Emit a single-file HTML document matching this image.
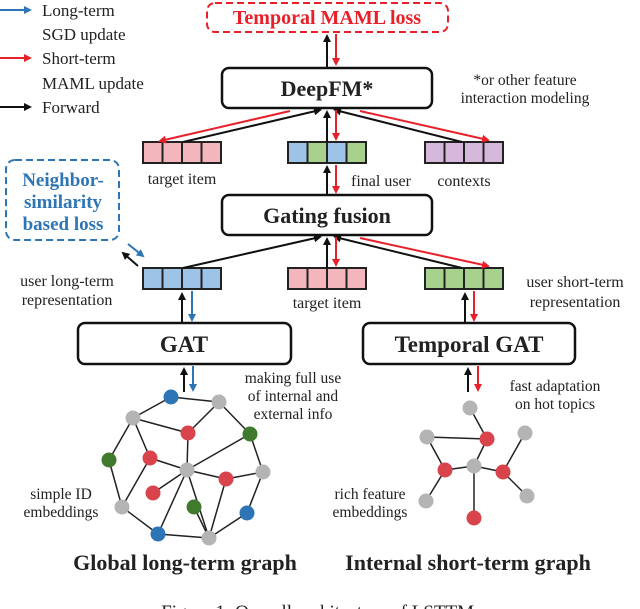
<!DOCTYPE html>
<html><head><meta charset="utf-8"><style>
html,body{margin:0;padding:0;background:#fff;width:640px;height:609px;overflow:hidden}
svg{display:block}
text{font-family:"Liberation Serif",serif;fill:#222}
</style></head><body>
<svg width="640" height="609" viewBox="0 0 640 609" xmlns="http://www.w3.org/2000/svg">
<defs>
<marker id="ak" markerWidth="8" markerHeight="8" refX="6" refY="4" orient="auto" markerUnits="userSpaceOnUse"><path d="M0,0 L8,4 L0,8 Z" fill="#111"/></marker>
<marker id="ar" markerWidth="8" markerHeight="8" refX="6" refY="4" orient="auto" markerUnits="userSpaceOnUse"><path d="M0,0 L8,4 L0,8 Z" fill="#e8202a"/></marker>
<marker id="ab" markerWidth="8" markerHeight="8" refX="6" refY="4" orient="auto" markerUnits="userSpaceOnUse"><path d="M0,0 L8,4 L0,8 Z" fill="#2e75b6"/></marker>
</defs>

<g stroke-width="2">
<line x1="0" y1="10" x2="30" y2="10" stroke="#2e75b6" marker-end="url(#ab)"/>
<line x1="0" y1="58" x2="30" y2="58" stroke="#e8202a" marker-end="url(#ar)"/>
<line x1="0" y1="107" x2="30" y2="107" stroke="#111" marker-end="url(#ak)"/>
</g>
<g font-size="17">
<text x="42" y="16">Long-term</text>
<text x="42" y="40">SGD update</text>
<text x="42" y="64">Short-term</text>
<text x="42" y="89">MAML update</text>
<text x="42" y="113">Forward</text>
</g>

<rect x="207" y="3" width="241" height="29" rx="8" fill="#fff" stroke="#e8202a" stroke-width="2" stroke-dasharray="7,4"/>
<text x="327" y="24" font-size="20" font-weight="bold" text-anchor="middle" style="fill:#e8202a">Temporal MAML loss</text>

<rect x="222" y="68" width="210" height="40" rx="7" fill="#fff" stroke="#111" stroke-width="2.5"/>
<text x="327" y="96" font-size="22" font-weight="bold" text-anchor="middle">DeepFM*</text>
<text x="525" y="85" font-size="15.5" text-anchor="middle">*or other feature</text>
<text x="525" y="103" font-size="15.5" text-anchor="middle">interaction modeling</text>

<line x1="327" y1="68" x2="327" y2="36" stroke="#111" stroke-width="2" marker-end="url(#ak)"/>
<line x1="336" y1="34" x2="336" y2="64" stroke="#e8202a" stroke-width="2" marker-end="url(#ar)"/>

<g stroke="#222" stroke-width="2">
<rect x="143" y="142" width="19.5" height="21" fill="#f4b6bd"/><rect x="162.5" y="142" width="19.5" height="21" fill="#f4b6bd"/><rect x="182" y="142" width="19.5" height="21" fill="#f4b6bd"/><rect x="201.5" y="142" width="19.5" height="21" fill="#f4b6bd"/>
<rect x="288" y="142" width="19.5" height="21" fill="#9dc3e6"/><rect x="307.5" y="142" width="19.5" height="21" fill="#a9d18e"/><rect x="327" y="142" width="19.5" height="21" fill="#9dc3e6"/><rect x="346.5" y="142" width="19.5" height="21" fill="#a9d18e"/>
<rect x="425" y="142" width="19.5" height="21" fill="#d5b8dc"/><rect x="444.5" y="142" width="19.5" height="21" fill="#d5b8dc"/><rect x="464" y="142" width="19.5" height="21" fill="#d5b8dc"/><rect x="483.5" y="142" width="19.5" height="21" fill="#d5b8dc"/>
</g>
<g font-size="16" text-anchor="middle">
<text x="182" y="184">target item</text>
<text x="381" y="186">final user</text>
<text x="464" y="186">contexts</text>
</g>
<line x1="183" y1="142" x2="320" y2="110" stroke="#111" stroke-width="2" marker-end="url(#ak)"/>
<line x1="290" y1="111" x2="160" y2="141" stroke="#e8202a" stroke-width="2" marker-end="url(#ar)"/>
<line x1="462" y1="142" x2="335" y2="110" stroke="#111" stroke-width="2" marker-end="url(#ak)"/>
<line x1="360" y1="111" x2="488" y2="140" stroke="#e8202a" stroke-width="2" marker-end="url(#ar)"/>
<line x1="327" y1="142" x2="327" y2="112" stroke="#111" stroke-width="2" marker-end="url(#ak)"/>
<line x1="336" y1="110" x2="336" y2="139" stroke="#e8202a" stroke-width="2" marker-end="url(#ar)"/>
<line x1="327" y1="195" x2="327" y2="167" stroke="#111" stroke-width="2" marker-end="url(#ak)"/>
<line x1="336" y1="165" x2="336" y2="192" stroke="#e8202a" stroke-width="2" marker-end="url(#ar)"/>

<rect x="222" y="195" width="210" height="40" rx="7" fill="#fff" stroke="#111" stroke-width="2.5"/>
<text x="327" y="223" font-size="22" font-weight="bold" text-anchor="middle">Gating fusion</text>

<rect x="6" y="160" width="113" height="80" rx="9" fill="#fff" stroke="#2e75b6" stroke-width="2" stroke-dasharray="7,4"/>
<g font-size="19" font-weight="bold" text-anchor="middle">
<text x="63" y="186" style="fill:#2e75b6">Neighbor-</text>
<text x="63" y="208" style="fill:#2e75b6">similarity</text>
<text x="63" y="230" style="fill:#2e75b6">based loss</text>
</g>
<line x1="128" y1="244" x2="143" y2="256" stroke="#2e75b6" stroke-width="2" marker-end="url(#ab)"/>
<line x1="138" y1="266" x2="123" y2="253" stroke="#111" stroke-width="2" marker-end="url(#ak)"/>

<g stroke="#222" stroke-width="2">
<rect x="143" y="268" width="19.5" height="21" fill="#9dc3e6"/><rect x="162.5" y="268" width="19.5" height="21" fill="#9dc3e6"/><rect x="182" y="268" width="19.5" height="21" fill="#9dc3e6"/><rect x="201.5" y="268" width="19.5" height="21" fill="#9dc3e6"/>
<rect x="288" y="268" width="19.5" height="21" fill="#f4b6bd"/><rect x="307.5" y="268" width="19.5" height="21" fill="#f4b6bd"/><rect x="327" y="268" width="19.5" height="21" fill="#f4b6bd"/><rect x="346.5" y="268" width="19.5" height="21" fill="#f4b6bd"/>
<rect x="425" y="268" width="19.5" height="21" fill="#a9d18e"/><rect x="444.5" y="268" width="19.5" height="21" fill="#a9d18e"/><rect x="464" y="268" width="19.5" height="21" fill="#a9d18e"/><rect x="483.5" y="268" width="19.5" height="21" fill="#a9d18e"/>
</g>
<g font-size="16" text-anchor="middle">
<text x="67" y="286">user long-term</text>
<text x="67" y="305">representation</text>
<text x="327" y="308">target item</text>
<text x="575" y="287">user short-term</text>
<text x="575" y="307">representation</text>
</g>
<line x1="183" y1="268" x2="320" y2="237" stroke="#111" stroke-width="2" marker-end="url(#ak)"/>
<line x1="462" y1="268" x2="335" y2="237" stroke="#111" stroke-width="2" marker-end="url(#ak)"/>
<line x1="360" y1="238" x2="488" y2="266" stroke="#e8202a" stroke-width="2" marker-end="url(#ar)"/>
<line x1="327" y1="268" x2="327" y2="239" stroke="#111" stroke-width="2" marker-end="url(#ak)"/>
<line x1="336" y1="237" x2="336" y2="265" stroke="#e8202a" stroke-width="2" marker-end="url(#ar)"/>

<line x1="182" y1="323" x2="182" y2="294" stroke="#111" stroke-width="2" marker-end="url(#ak)"/>
<line x1="192" y1="291" x2="192" y2="320" stroke="#2e75b6" stroke-width="2" marker-end="url(#ab)"/>
<line x1="465" y1="323" x2="465" y2="294" stroke="#111" stroke-width="2" marker-end="url(#ak)"/>
<line x1="474" y1="291" x2="474" y2="320" stroke="#e8202a" stroke-width="2" marker-end="url(#ar)"/>

<rect x="78" y="323" width="213" height="41" rx="7" fill="#fff" stroke="#111" stroke-width="2.5"/>
<text x="184" y="352" font-size="23" font-weight="bold" text-anchor="middle">GAT</text>
<rect x="363" y="323" width="212" height="41" rx="7" fill="#fff" stroke="#111" stroke-width="2.5"/>
<text x="469" y="352" font-size="23" font-weight="bold" text-anchor="middle">Temporal GAT</text>

<line x1="184" y1="392" x2="184" y2="369" stroke="#111" stroke-width="2" marker-end="url(#ak)"/>
<line x1="193" y1="366" x2="193" y2="390" stroke="#2e75b6" stroke-width="2" marker-end="url(#ab)"/>
<line x1="468" y1="392" x2="468" y2="369" stroke="#111" stroke-width="2" marker-end="url(#ak)"/>
<line x1="478" y1="366" x2="478" y2="390" stroke="#e8202a" stroke-width="2" marker-end="url(#ar)"/>

<g font-size="15.5" text-anchor="middle">
<text x="293" y="383">making full use</text>
<text x="293" y="401">of internal and</text>
<text x="293" y="419">external info</text>
<text x="555" y="391">fast adaptation</text>
<text x="555" y="409">on hot topics</text>
<text x="61" y="499">simple ID</text>
<text x="61" y="517">embeddings</text>
<text x="370" y="499">rich feature</text>
<text x="370" y="517">embeddings</text>
</g>

<g stroke="#222" stroke-width="1.5">
<line x1="171" y1="397" x2="219" y2="402"/>
<line x1="171" y1="397" x2="133" y2="418"/>
<line x1="133" y1="418" x2="188" y2="433"/>
<line x1="219" y1="402" x2="188" y2="433"/>
<line x1="219" y1="402" x2="250" y2="434"/>
<line x1="133" y1="418" x2="150" y2="458"/>
<line x1="133" y1="418" x2="109" y2="460"/>
<line x1="109" y1="460" x2="122" y2="507"/>
<line x1="122" y1="507" x2="150" y2="458"/>
<line x1="188" y1="433" x2="187" y2="470"/>
<line x1="150" y1="458" x2="187" y2="470"/>
<line x1="250" y1="434" x2="187" y2="470"/>
<line x1="250" y1="434" x2="263" y2="472"/>
<line x1="187" y1="470" x2="226" y2="479"/>
<line x1="187" y1="470" x2="153" y2="493"/>
<line x1="187" y1="470" x2="158" y2="534"/>
<line x1="187" y1="470" x2="209" y2="538"/>
<line x1="226" y1="479" x2="263" y2="472"/>
<line x1="226" y1="479" x2="209" y2="538"/>
<line x1="263" y1="472" x2="247" y2="513"/>
<line x1="247" y1="513" x2="209" y2="538"/>
<line x1="194" y1="507" x2="209" y2="538"/>
<line x1="158" y1="534" x2="209" y2="538"/>
<line x1="122" y1="507" x2="158" y2="534"/>
</g>
<g>
<ellipse cx="171" cy="397" rx="7.5" ry="7.5" fill="#2e75b6"/>
<ellipse cx="219" cy="402" rx="7.5" ry="7.5" fill="#b4b4b4"/>
<ellipse cx="133" cy="418" rx="7.5" ry="7.5" fill="#b4b4b4"/>
<ellipse cx="188" cy="433" rx="7.5" ry="7.5" fill="#d9444c"/>
<ellipse cx="250" cy="434" rx="7.5" ry="7.5" fill="#3f7a2e"/>
<ellipse cx="109" cy="460" rx="7.5" ry="7.5" fill="#3f7a2e"/>
<ellipse cx="150" cy="458" rx="7.5" ry="7.5" fill="#d9444c"/>
<ellipse cx="187" cy="470" rx="7.5" ry="7.5" fill="#b4b4b4"/>
<ellipse cx="226" cy="479" rx="7.5" ry="7.5" fill="#d9444c"/>
<ellipse cx="263" cy="472" rx="7.5" ry="7.5" fill="#b4b4b4"/>
<ellipse cx="153" cy="493" rx="7.5" ry="7.5" fill="#d9444c"/>
<ellipse cx="194" cy="507" rx="7.5" ry="7.5" fill="#3f7a2e"/>
<ellipse cx="122" cy="507" rx="7.5" ry="7.5" fill="#b4b4b4"/>
<ellipse cx="247" cy="513" rx="7.5" ry="7.5" fill="#2e75b6"/>
<ellipse cx="158" cy="534" rx="7.5" ry="7.5" fill="#2e75b6"/>
<ellipse cx="209" cy="538" rx="7.5" ry="7.5" fill="#b4b4b4"/>
</g>

<g stroke="#222" stroke-width="1.5">
<line x1="470" y1="408" x2="487" y2="439"/>
<line x1="427" y1="437" x2="487" y2="439"/>
<line x1="427" y1="437" x2="445" y2="470"/>
<line x1="487" y1="439" x2="474" y2="466"/>
<line x1="474" y1="466" x2="445" y2="470"/>
<line x1="474" y1="466" x2="503" y2="472"/>
<line x1="503" y1="472" x2="525" y2="433"/>
<line x1="503" y1="472" x2="527" y2="496"/>
<line x1="445" y1="470" x2="426" y2="501"/>
<line x1="474" y1="466" x2="474" y2="518"/>
</g>
<g>
<ellipse cx="470" cy="408" rx="7.5" ry="7.5" fill="#b4b4b4"/>
<ellipse cx="427" cy="437" rx="7.5" ry="7.5" fill="#b4b4b4"/>
<ellipse cx="487" cy="439" rx="7.5" ry="7.5" fill="#d9444c"/>
<ellipse cx="525" cy="433" rx="7.5" ry="7.5" fill="#b4b4b4"/>
<ellipse cx="445" cy="470" rx="7.5" ry="7.5" fill="#d9444c"/>
<ellipse cx="474" cy="466" rx="7.5" ry="7.5" fill="#b4b4b4"/>
<ellipse cx="503" cy="472" rx="7.5" ry="7.5" fill="#d9444c"/>
<ellipse cx="426" cy="501" rx="7.5" ry="7.5" fill="#b4b4b4"/>
<ellipse cx="527" cy="496" rx="7.5" ry="7.5" fill="#b4b4b4"/>
<ellipse cx="474" cy="518" rx="7.5" ry="7.5" fill="#d9444c"/>
</g>

<text x="185" y="570" font-size="22" font-weight="bold" text-anchor="middle">Global long-term graph</text>
<text x="468" y="570" font-size="22" font-weight="bold" text-anchor="middle">Internal short-term graph</text>
<text x="320" y="618" font-size="19" text-anchor="middle">Figure 1: Overall architecture of LSTTM.</text>
</svg>
</body></html>
